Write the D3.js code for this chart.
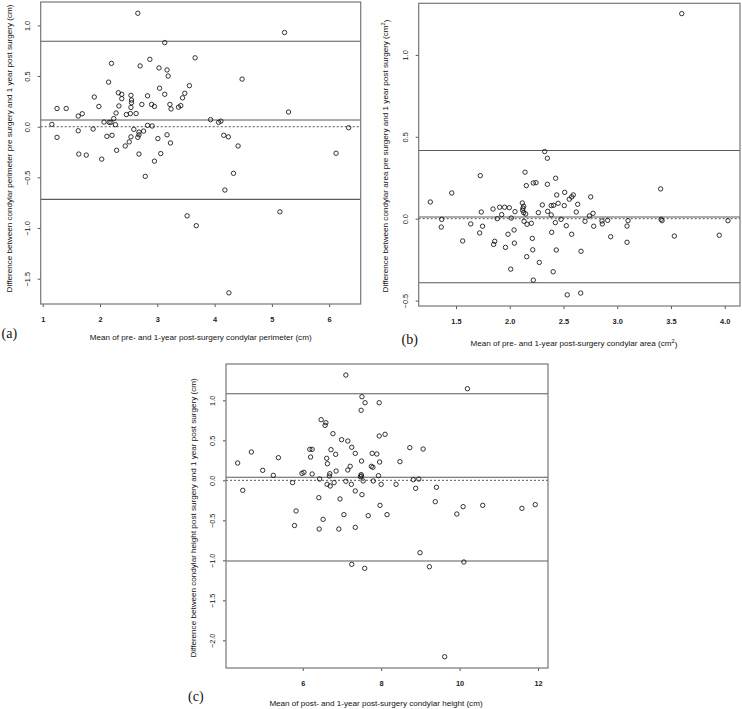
<!DOCTYPE html>
<html><head><meta charset="utf-8">
<script src="https://cdn.jsdelivr.net/npm/d3@7"></script>
<style>body{margin:0;background:#fff}svg{display:block}</style>
</head><body><svg id="chart" width="742" height="709"></svg>
<script>
// ---------- DATA ----------
// (a) condylar perimeter (cm)
const perimMean = [2.66,5.22,3.13,3.66,2.87,2.20,2.70,3.03,3.17,3.19,4.48,2.15,3.56,3.04,2.32,3.48,2.38,2.54,3.13,2.83,1.90,3.44,2.38,2.55,2.55,1.98,2.33,2.73,2.90,3.22,2.95,3.41,3.37,2.54,3.24,1.25,1.41,5.29,1.69,2.28,2.46,2.53,2.63,1.62,2.24,3.93,2.07,2.16,2.19,4.11,4.07,1.16,2.27,2.83,2.91,6.34,1.88,2.59,1.62,2.76,2.68,2.68,3.17,2.21,4.16,4.24,1.25,2.12,2.54,2.66,3.01,2.51,3.23,2.44,4.41,2.29,1.63,1.76,2.68,3.06,6.12,2.03,2.95,2.79,4.33,4.18,3.52,3.68,5.14,4.25];
const perimDiff = [1.12,0.93,0.83,0.68,0.665,0.625,0.60,0.58,0.56,0.50,0.47,0.44,0.405,0.38,0.335,0.33,0.32,0.31,0.32,0.305,0.293,0.285,0.277,0.263,0.237,0.20,0.205,0.22,0.22,0.22,0.20,0.208,0.193,0.19,0.175,0.18,0.18,0.145,0.128,0.135,0.12,0.13,0.13,0.105,0.08,0.07,0.046,0.043,0.043,0.055,0.043,0.023,0.02,0.013,0.007,-0.01,-0.023,-0.026,-0.04,-0.043,-0.053,-0.08,-0.08,-0.085,-0.085,-0.10,-0.105,-0.095,-0.10,-0.105,-0.117,-0.15,-0.16,-0.19,-0.19,-0.233,-0.27,-0.28,-0.27,-0.265,-0.262,-0.32,-0.34,-0.49,-0.46,-0.625,-0.88,-0.977,-0.84,-1.64];
const perimLines = [0.843, 0.066, -0.717];   // upper LoA, mean bias, lower LoA
const perimXTicks = [1,2,3,4,5,6];
const perimYTicks = [-1.5,-1.0,-0.5,0.0,0.5,1.0];

// (b) condylar area (cm2)
const areaMean = [3.60,2.325,2.35,1.726,2.142,2.427,2.154,2.219,2.244,2.35,1.46,1.261,3.404,2.511,2.437,2.591,2.576,2.554,2.753,2.303,2.117,2.13,2.386,2.408,2.45,2.507,2.632,1.844,1.906,1.952,1.996,2.123,2.12,2.13,1.735,2.049,2.266,2.353,2.386,2.619,2.741,2.775,1.925,2.148,1.884,2.014,2.477,2.70,2.858,2.911,3.10,3.408,3.417,4.03,1.367,2.133,2.161,2.201,1.637,2.424,2.526,2.861,2.781,1.747,1.363,2.04,3.091,1.72,2.39,1.984,2.576,2.939,3.531,3.949,2.21,1.562,1.86,1.85,2.043,3.091,1.96,2.214,2.433,2.663,2.158,2.275,2.009,2.404,2.219,2.535,2.66];
const areaDiff = [1.252,0.41,0.369,0.263,0.284,0.247,0.202,0.218,0.22,0.21,0.157,0.102,0.182,0.161,0.145,0.145,0.133,0.119,0.133,0.084,0.096,0.076,0.08,0.082,0.094,0.08,0.088,0.059,0.07,0.07,0.067,0.064,0.051,0.037,0.041,0.043,0.037,0.045,0.023,0.041,0.017,0.033,0.025,0.029,0.0,0.004,-0.004,-0.016,-0.014,-0.01,-0.012,-0.004,-0.012,-0.012,-0.004,-0.016,-0.034,-0.028,-0.032,-0.024,-0.043,-0.032,-0.046,-0.046,-0.051,-0.069,-0.045,-0.087,-0.083,-0.095,-0.095,-0.11,-0.106,-0.101,-0.12,-0.136,-0.138,-0.157,-0.149,-0.144,-0.175,-0.19,-0.191,-0.199,-0.232,-0.267,-0.308,-0.324,-0.375,-0.465,-0.454];
const areaLines = [0.416, 0.0104, -0.391];
const areaXTicks = [1.5,2.0,2.5,3.0,3.5,4.0];
const areaYTicks = [-0.5,0.0,0.5,1.0];

// (c) condylar height (cm)
const heightMean = [7.10,10.20,7.51,7.59,7.95,7.49,6.47,6.59,6.57,6.77,8.10,7.95,6.99,7.15,7.25,8.73,9.07,6.18,6.24,6.72,4.69,6.84,7.34,7.77,7.89,6.20,5.38,6.61,7.50,7.96,8.48,4.34,6.63,7.21,7.75,7.79,7.15,6.85,4.98,5.98,6.03,6.24,5.25,6.69,6.68,7.49,7.50,7.47,7.93,6.43,8.82,8.96,7.10,7.54,7.80,5.74,6.62,6.80,6.70,7.24,8.00,8.38,8.88,9.41,4.47,7.34,7.51,6.41,6.95,9.38,7.97,10.09,10.59,11.59,11.93,5.83,9.93,7.05,7.67,8.15,6.52,5.79,6.42,6.92,7.34,8.99,7.25,7.58,9.23,10.11,9.62];
const heightDiff = [1.316,1.145,1.045,0.97,0.97,0.875,0.758,0.72,0.687,0.583,0.575,0.554,0.508,0.491,0.413,0.408,0.391,0.387,0.387,0.383,0.354,0.325,0.337,0.337,0.329,0.291,0.283,0.275,0.241,0.229,0.233,0.216,0.208,0.175,0.175,0.163,0.129,0.116,0.125,0.087,0.10,0.079,0.062,0.083,0.054,0.071,0.054,0.046,0.058,0.016,0.008,0.016,-0.012,-0.008,-0.008,-0.029,-0.05,-0.029,-0.071,-0.05,-0.05,-0.05,-0.10,-0.087,-0.125,-0.133,-0.179,-0.217,-0.233,-0.267,-0.313,-0.329,-0.313,-0.35,-0.304,-0.383,-0.421,-0.429,-0.442,-0.429,-0.488,-0.565,-0.609,-0.609,-0.588,-0.905,-1.05,-1.10,-1.08,-1.021,-2.205];
const heightLines = [1.083, 0.0375, -1.009];
const heightXTicks = [6,8,10,12];
const heightYTicks = [-2.0,-1.5,-1.0,-0.5,0.0,0.5,1.0];

// ---------- LAYOUT ----------
const svg = d3.select("#chart");
const SANS = "'Liberation Sans', Arial, Helvetica, sans-serif";
const SERIF = "'Liberation Serif', 'Times New Roman', serif";

const panels = [
  { tag:"(a)", mean:perimMean, diff:perimDiff, lines:perimLines, xt:perimXTicks, yt:perimYTicks,
    box:{l:40.7, r:360.7, t:2, b:304},
    xd:[0.965, 6.55], yd:[-1.750, 1.231], xfmt:d3.format("d"),
    xlab:["Mean of pre- and 1-year post-surgery condylar perimeter (cm)"], xlabX:200.7, xlabY:339.5,
    ylab:["Difference between condylar perimeter pre surgery and 1 year post surgery (cm)"], ylabX:11.5, ylabY:148.5,
    tagX:1.5, tagY:338 },
  { tag:"(b)", mean:areaMean, diff:areaDiff, lines:areaLines, xt:areaXTicks, yt:areaYTicks,
    box:{l:418.7, r:740, t:3.3, b:306},
    xd:[1.153, 4.142], yd:[-0.533, 1.315], xfmt:d3.format(".1f"),
    xlab:["Mean of pre- and 1-year post-surgery condylar area (cm","2",")"], xlabX:574, xlabY:346,
    ylab:["Difference between condylar area pre surgery and 1 year post surgery (cm","2",")"], ylabX:388, ylabY:156,
    tagX:401.5, tagY:344 },
  { tag:"(c)", mean:heightMean, diff:heightDiff, lines:heightLines, xt:heightXTicks, yt:heightYTicks,
    box:{l:226, r:548, t:364, b:668},
    xd:[4.043, 12.255], yd:[-2.346, 1.454], xfmt:d3.format("d"),
    xlab:["Mean of post- and 1-year post-surgery condylar height (cm)"], xlabX:376, xlabY:705.5,
    ylab:["Difference between condylar height post surgery and 1 year post surgery (cm)"], ylabX:195.5, ylabY:518,
    tagX:188, tagY:701 }
];

const yfmt = v => (v < 0 ? "\u2212" : "") + d3.format(".1f")(Math.abs(v));

function addLabel(sel, parts) {
  sel.append("tspan").text(parts[0]);
  if (parts.length > 1) {
    sel.append("tspan").attr("dy", "-0.45em").attr("font-size", "0.7em").text(parts[1]);
    sel.append("tspan").attr("dy", "0.45em").text(parts[2]);
  }
}

panels.forEach(p => {
  const g = svg.append("g");
  const x = d3.scaleLinear().domain(p.xd).range([p.box.l, p.box.r]);
  const y = d3.scaleLinear().domain(p.yd).range([p.box.b, p.box.t]);

  // x axis
  const xa = g.append("g").attr("transform", `translate(0,${p.box.b})`)
    .call(d3.axisBottom(x).tickValues(p.xt).tickSize(3).tickFormat(p.xfmt));
  xa.select(".domain").remove();
  xa.selectAll("line").attr("stroke", "#555");
  xa.selectAll("text").attr("y", 18).attr("dy", 0)
    .attr("font-family", SANS).attr("font-size", 7.4).attr("font-weight", "bold").attr("fill", "#222");

  // y axis
  const ya = g.append("g").attr("transform", `translate(${p.box.l},0)`)
    .call(d3.axisLeft(y).tickValues(p.yt).tickSize(3).tickFormat(yfmt));
  ya.select(".domain").remove();
  ya.selectAll("line").attr("stroke", "#555");
  ya.selectAll("text").attr("transform", "rotate(-90)").attr("x", 0).attr("y", -11).attr("dy", 0)
    .attr("text-anchor", "middle")
    .attr("font-family", SANS).attr("font-size", 7.4).attr("fill", "#111");

  // reference lines
  const [up, mid, lo] = p.lines;
  g.selectAll(".loa").data([up, mid, lo]).enter().append("line")
    .attr("x1", p.box.l).attr("x2", p.box.r)
    .attr("y1", d => y(d)).attr("y2", d => y(d))
    .attr("stroke", "#5a5a5a").attr("stroke-width", 1.1);
  g.append("line")
    .attr("x1", p.box.l).attr("x2", p.box.r)
    .attr("y1", y(0)).attr("y2", y(0))
    .attr("stroke", "#555").attr("stroke-width", 1).attr("stroke-dasharray", "2,2");

  // points
  g.selectAll(".pt").data(p.mean.map((m, i) => [m, p.diff[i]])).enter().append("circle")
    .attr("cx", d => x(d[0])).attr("cy", d => y(d[1])).attr("r", 2.2)
    .attr("fill", "none").attr("stroke", "#111").attr("stroke-width", 0.85);

  // box
  g.append("rect").attr("x", p.box.l).attr("y", p.box.t)
    .attr("width", p.box.r - p.box.l).attr("height", p.box.b - p.box.t)
    .attr("fill", "none").attr("stroke", "#777").attr("stroke-width", 1.2);

  // axis titles
  const xl = g.append("text").attr("x", p.xlabX).attr("y", p.xlabY).attr("text-anchor", "middle")
    .attr("font-family", SANS).attr("font-size", 8.1).attr("fill", "#111");
  addLabel(xl, p.xlab);
  const yl = g.append("text").attr("transform", `translate(${p.ylabX},${p.ylabY}) rotate(-90)`)
    .attr("text-anchor", "middle")
    .attr("font-family", SANS).attr("font-size", 8.1).attr("fill", "#111");
  addLabel(yl, p.ylab);

  // panel tag
  g.append("text").attr("x", p.tagX).attr("y", p.tagY)
    .attr("font-family", SERIF).attr("font-size", 14).attr("fill", "#111").text(p.tag);
});
</script>
</body></html>
